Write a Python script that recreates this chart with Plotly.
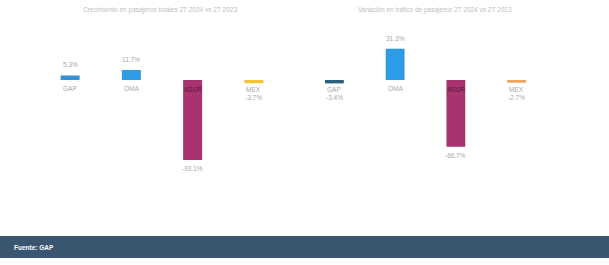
import plotly.graph_objects as go

categories = ["GAP", "OMA", "ASUR", "MEX"]
titles = ["Crecimiento en pasajeros totales 2T 2024 vs 2T 2023",
          "Variación en tráfico de pasajeros 2T 2024 vs 2T 2023"]
values_left = [5.3, 11.7, -93.1, -3.7]
values_right = [-3.4, 31.3, -66.7, -2.7]
colors_left = ["#3590d8", "#2e9be6", "#a8336f", "#f2c431"]
colors_right = ["#2d5f80", "#2e9be6", "#a8336f", "#f0a15e"]
source = "Fuente: GAP"

W, H = 609, 265
fig = go.Figure()

panels = [
    (values_left, colors_left, "x", "y", (39.5, 284.5), 0.86),
    (values_right, colors_right, "x2", "y2", (304, 547), 1.0),
]
base_px = 80
for vals, cols, xa, ya, _, _ in panels:
    fig.add_trace(go.Bar(x=categories, y=vals, marker=dict(color=cols, line=dict(width=0)),
                         width=0.31, xaxis=xa, yaxis=ya, showlegend=False, hoverinfo="skip"))

layout = dict(width=W, height=H, margin=dict(l=0, r=0, t=0, b=0),
              paper_bgcolor="white", plot_bgcolor="white")
for i, (vals, cols, xa, ya, dom, scale) in enumerate(panels):
    sfx = "" if i == 0 else "2"
    ymax = base_px / scale
    ymin = ymax - H / scale
    layout["xaxis" + sfx] = dict(domain=[dom[0] / W, dom[1] / W], visible=False,
                                 anchor="y" + sfx)
    layout["yaxis" + sfx] = dict(domain=[0, 1], range=[ymin, ymax], visible=False,
                                 anchor="x" + sfx)
fig.update_layout(**layout)

font = dict(family="Liberation Sans, Arial", size=6.5, color="#a8a8a8")
ann = []
for i, (vals, cols, xa, ya, dom, scale) in enumerate(panels):
    for c, v in zip(categories, vals):
        txt = f"{v:.1f}%"
        if v >= 0:
            ann.append(dict(x=c, y=v, xref=xa, yref=ya, text=txt, showarrow=False,
                            yanchor="bottom", yshift=5, font=font))
            ann.append(dict(x=c, y=0, xref=xa, yref=ya, text=c, showarrow=False,
                            yanchor="top", yshift=-3, font=font))
        elif v > -10:
            ann.append(dict(x=c, y=v, xref=xa, yref=ya, text=c, showarrow=False,
                            yanchor="top", yshift=-1, font=font))
            ann.append(dict(x=c, y=v, xref=xa, yref=ya, text=txt, showarrow=False,
                            yanchor="top", yshift=-9, font=font))
        else:
            ann.append(dict(x=c, y=0, xref=xa, yref=ya, text=c, showarrow=False,
                            yanchor="top", yshift=-4,
                            font=dict(family="Liberation Sans, Arial", size=6.5, color="#5a1a3a")))
            ann.append(dict(x=c, y=v, xref=xa, yref=ya, text=txt, showarrow=False,
                            yanchor="top", yshift=-3, font=font))

title_x = [160 / W, 435 / W]
for t, tx in zip(titles, title_x):
    ann.append(dict(x=tx, y=1 - 10 / H, xref="paper", yref="paper", text=t, showarrow=False,
                    xanchor="center", yanchor="middle",
                    font=dict(family="Liberation Sans, Arial", size=6.5, color="#c0c0c0")))

ann.append(dict(x=12 / W, y=1 - 247 / H, xref="paper", yref="paper", text=f"<b>{source}</b>",
                showarrow=False, xanchor="left", yanchor="middle",
                font=dict(family="Liberation Sans, Arial", size=6.5, color="white")))
fig.update_layout(annotations=ann)
fig.add_shape(type="rect", xref="paper", yref="paper", x0=0, x1=1,
              y0=1 - 258 / H, y1=1 - 236 / H, fillcolor="#3a5570", line=dict(width=0),
              layer="below")

fig.write_html("out.html", config={"displayModeBar": False, "staticPlot": True},
               post_script="document.body.style.margin='0';document.body.style.overflow='hidden';")
